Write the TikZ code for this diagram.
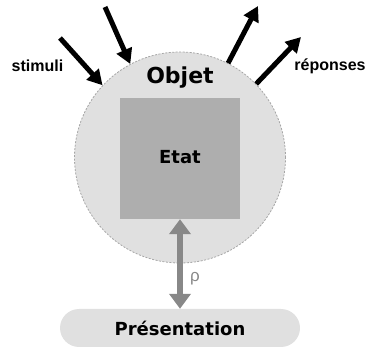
\documentclass[tikz,border=0pt]{standalone}
\usepackage{fontspec}
\setmainfont{Liberation Sans}
\newfontfamily\heavyfont{DejaVu Sans}
\usepackage{tikz}
\usetikzlibrary{arrows.meta, positioning, calc}

\definecolor{objfill}{HTML}{E0E0E0}
\definecolor{etatfill}{HTML}{AEAEAE}
\definecolor{rhogray}{HTML}{888888}

\tikzset{
  bigarrow/.style={line width=5pt, -{Triangle[length=15pt,width=16pt]}},
  label/.style={font=\bfseries\fontsize{16}{18}\selectfont},
  title/.style={font=\heavyfont\bfseries\fontsize{#1}{#1}\selectfont}
}

\begin{document}
\begin{tikzpicture}[x=1pt, y=-1pt]
\useasboundingbox (0,0) rectangle (367,347);

% Objet
\node[circle, minimum size=211pt, inner sep=0pt, fill=objfill,
      draw=black!35, line width=0.8pt, dash pattern=on 2pt off 1.5pt] (objet) at (180,157.5) {};
\node[title=22] (objlabel) at (180,78) {Objet};

% Etat
\node[rectangle, minimum width=120pt, minimum height=121pt, inner sep=0pt,
      fill=etatfill] (etat) at (180,158.5) {};
\node[title=18] (etatlabel) at (180,157) {Etat};

% Presentation
\node[rectangle, rounded corners=19pt, minimum width=240pt, minimum height=38pt,
      inner sep=0pt, fill=objfill] (pres) at (180,328) {};
\node[title=18] (preslabel) at (180,328) {Présentation};

% stimuli
\node[label] (stimuli) at (37.5,66) {stimuli};
\coordinate (s1) at (60,38);
\coordinate (s2) at (105,7);
\draw[bigarrow] (s1) -- (objet.137);
\draw[bigarrow] (s2) -- (objet.118);

% reponses
\node[label] (reponses) at (330,66) {réponses};
\coordinate (r1) at (258,6);
\coordinate (r2) at (301,37);
\draw[bigarrow] (objet.63) -- (r1);
\draw[bigarrow] (objet.44) -- (r2);

% rho
\draw[rhogray, line width=6pt, {Triangle[length=15pt,width=21pt]}-{Triangle[length=15pt,width=21pt]}]
  (etat.south) -- (pres.north);
\node[rhogray, font=\fontsize{17}{19}\selectfont] (rho) at (195,279) {ρ};
\end{tikzpicture}
\end{document}
